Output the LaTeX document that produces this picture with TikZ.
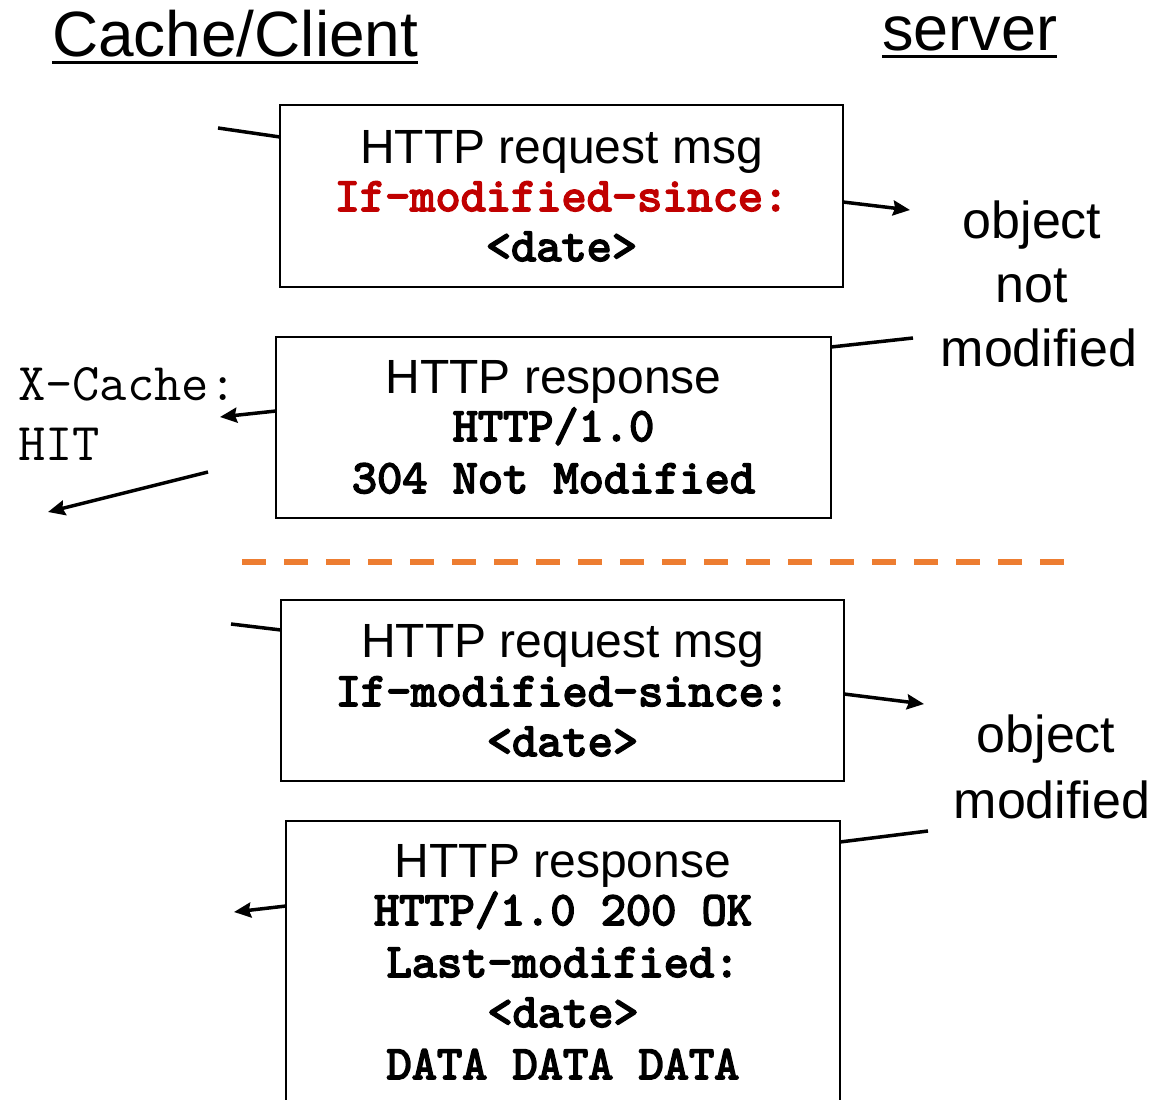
\documentclass[tikz,border=0pt]{standalone}
\usepackage{fontspec}
\setmainfont{Liberation Sans}
\newfontfamily\codebold[FakeBold=3.5]{lmmono10-regular.otf}
\usetikzlibrary{arrows.meta}
\definecolor{divider}{HTML}{ED7D31}
\definecolor{hdrred}{HTML}{C00000}
\tikzset{
  msgbox/.style={draw, line width=2pt, inner sep=0pt, outer sep=0pt},
  label/.style={inner sep=0pt, outer sep=0pt, anchor=base},
  sanstxt/.style={label, font=\fontsize{48}{48}\selectfont},
  codetxt/.style={label, font=\codebold\fontsize{48}{48}\selectfont},
  sidetxt/.style={label, font=\fontsize{52}{52}\selectfont},
  headtxt/.style={label, anchor=base west, font=\fontsize{64}{64}\selectfont},
  wire/.style={line width=3.5pt},
  msgarrow/.style={line width=3.5pt, -{Stealth[length=17pt,width=15pt,inset=2pt]}},
}
\begin{document}
\begin{tikzpicture}[x=1pt,y=-1pt]
\useasboundingbox (0,0) rectangle (1159,1100);
\clip (0,0) rectangle (1159,1100);

% column headings
\node[headtxt] (client) at (52,56) {Cache/Client};
\node[headtxt, font=\fontsize{63}{63}\selectfont] (server) at (882,50) {server};
\draw[line width=3pt] ([yshift=-6pt]client.base west) -- ([yshift=-6pt]client.base east);
\draw[line width=3pt] ([yshift=-6pt]server.base west) -- ([yshift=-6pt]server.base east);

% message boxes
\node[msgbox, minimum width=563pt, minimum height=182pt] (b1) at (561.5,196) {};
\node[msgbox, minimum width=555pt, minimum height=181pt] (b2) at (553.5,427.5) {};
\node[msgbox, minimum width=563pt, minimum height=181pt] (b3) at (562.5,690.5) {};
\node[msgbox, minimum width=554pt, minimum height=287pt] (b4) at (563,964.5) {};

% conditional GET, object not modified
\node[sanstxt] (t11) at (561.5,163) {HTTP request msg};
\node[codetxt, text=hdrred] (t12) at (561.5,211) {If-modified-since:};
\node[codetxt] (t13) at (561.5,261) {<date>};

\node[sanstxt] (t21) at (553.5,393) {HTTP response};
\node[codetxt] (t22) at (553.5,441) {HTTP/1.0};
\node[codetxt] (t23) at (553.5,493) {304 Not Modified};

% conditional GET, object modified
\node[sanstxt] (t31) at (562.5,657) {HTTP request msg};
\node[codetxt] (t32) at (562.5,706) {If-modified-since:};
\node[codetxt] (t33) at (562.5,756) {<date>};

\node[sanstxt] (t41) at (563,877) {HTTP response};
\node[codetxt] (t42) at (563,925) {HTTP/1.0 200 OK};
\node[codetxt] (t43) at (563,977) {Last-modified:};
\node[codetxt] (t44) at (563,1027) {<date>};
\node[codetxt] (t45) at (563,1079) {DATA DATA DATA};

% server-side notes
\node[sidetxt] (s1) at (1032,238) {object};
\node[sidetxt] (s2) at (1032,302) {not};
\node[sidetxt] (s3) at (1039,366) {modified};
\node[sidetxt] (s4) at (1046,752) {object};
\node[sidetxt] (s5) at (1052,818) {modified};

% cache-side note
\node[label, anchor=base west, font=\ttfamily\fontsize{53}{53}\selectfont] (xc1) at (18,400) {X-Cache:};
\node[label, anchor=base west, font=\ttfamily\fontsize{53}{53}\selectfont] (xc2) at (18,460) {HIT};

% free ends of the message lines
\coordinate (in1) at (218,128);
\coordinate (out1) at (910,210);
\coordinate (in2) at (913,338);
\coordinate (out2) at (220,417);
\coordinate (fwdA) at (208,472);
\coordinate (fwdB) at (48,512);
\coordinate (in3) at (231,624);
\coordinate (out3) at (924,704);
\coordinate (in4) at (928,831);
\coordinate (out4) at (234,912);

\draw[wire] (in1) -- ([yshift=-32pt]b1.north west);
\draw[msgarrow] ([yshift=-97pt]b1.north east) -- (out1);
\draw[wire] (in2) -- ([yshift=-10pt]b2.north east);
\draw[msgarrow] ([yshift=-74pt]b2.north west) -- (out2);
\draw[msgarrow] (fwdA) -- (fwdB);
\draw[wire] (in3) -- ([yshift=-30pt]b3.north west);
\draw[msgarrow] ([yshift=-94pt]b3.north east) -- (out3);
\draw[wire] (in4) -- ([yshift=-21pt]b4.north east);
\draw[msgarrow] ([yshift=-85pt]b4.north west) -- (out4);

% divider between the two cases
\coordinate (divL) at (242,562);
\coordinate (divR) at (1064,562);
\draw[divider, line width=6pt, dash pattern=on 24pt off 18pt] (divL) -- (divR);
\end{tikzpicture}
\end{document}
